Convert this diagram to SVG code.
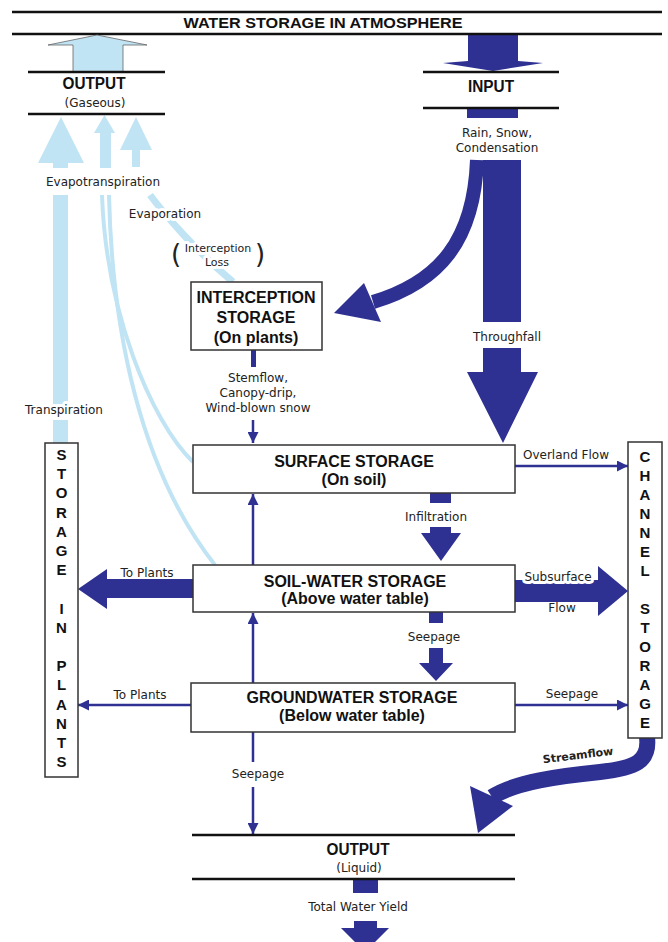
<svg xmlns="http://www.w3.org/2000/svg" width="668" height="942" viewBox="0 0 668 942">
<defs>
<style>
.t{font-family:"DejaVu Sans",Verdana,sans-serif;font-size:12px;fill:#222;text-anchor:middle}
.s{font-size:11px}
.b{font-family:"Liberation Sans",Arial,sans-serif;font-weight:bold;font-size:16px;fill:#111;text-anchor:middle}
.v{font-family:"Liberation Sans",Arial,sans-serif;font-weight:bold;font-size:15px;fill:#111;text-anchor:middle}
.halo{stroke:#fff;stroke-width:6;paint-order:stroke;stroke-linejoin:round}
.box{fill:#fff;stroke:#333;stroke-width:1.5}
.hl{stroke:#111;stroke-width:2.5}
.db{fill:#2e3192}
.dl{stroke:#2e3192;stroke-width:2.5;fill:none}
.lb{fill:#c0e4f4}
.ll{stroke:#c0e4f4;fill:none}
</style>
<marker id="ah" viewBox="0 0 10 10" refX="10" refY="5" markerUnits="userSpaceOnUse" markerWidth="12" markerHeight="11" orient="auto"><path d="M0,0 L10,5 L0,10 z" fill="#2e3192"/></marker>
</defs>
<rect width="668" height="942" fill="#fff"/>

<g id="connectors">
  <!-- light blue evapotranspiration arrows -->
  <path class="lb" d="M61,117 L84,163 L38,163 Z"/>
  <rect class="lb" x="53" y="160" width="15" height="8"/>
  <rect class="lb" x="53" y="195" width="15" height="212"/>
  <rect class="lb" x="53" y="420" width="15" height="23"/>
  <path class="lb" d="M104.5,115 L115,133 L94,133 Z"/>
  <rect class="lb" x="100" y="131" width="11" height="37"/>
  <path class="ll" stroke-width="4" d="M102,195 C106,310 150,420 193,462"/>
  <path class="ll" stroke-width="4" d="M109,195 C112,330 140,470 215,565"/>
  <path class="lb" d="M136,117 L152,150 L120,150 Z"/>
  <rect class="lb" x="132" y="148" width="8" height="19"/>
  <path class="ll" stroke-width="7" d="M150,195 C165,215 195,250 233,282"/>

  <!-- input -->
  <path class="db" d="M468,34 H518 V61 L543,63 L493,71 L443,63 L468,61 Z"/>
  <rect class="db" x="467" y="108" width="51" height="10"/>
  <rect class="db" x="483" y="160" width="38" height="162"/>
  <path class="db" d="M483,348 H521 V372 H538 L503,443 L467,372 H483 Z"/>
  <path d="M477,160 C474,240 440,282 373,302" stroke="#2e3192" stroke-width="14" fill="none"/>
  <path class="db" d="M334,313 L364,283 L381,322 Z"/>

  <!-- interception to surface -->
  <rect class="db" x="251" y="350" width="5" height="17"/>
  <path class="dl" marker-end="url(#ah)" d="M253,420 V443"/>
  <!-- upward -->
  <path class="dl" marker-end="url(#ah)" d="M253,565 V494"/>
  <path class="dl" marker-end="url(#ah)" d="M253,683 V613"/>
  <!-- seepage down -->
  <path class="dl" d="M253,732 V762"/>
  <path class="dl" marker-end="url(#ah)" d="M253,787 V834"/>

  <!-- infiltration -->
  <rect class="db" x="430" y="493" width="21" height="10"/>
  <path class="db" d="M430,527 H451 V533 H461 L441,561 L421,533 H430 Z"/>
  <!-- seepage soil to ground -->
  <rect class="db" x="429" y="612" width="14" height="11"/>
  <path class="db" d="M429,648 H443 V663 H453 L436,681 L419,663 H429 Z"/>

  <!-- to channel -->
  <path class="dl" marker-end="url(#ah)" d="M515,466 H628"/>
  <path class="db" d="M515,580 H598 V566 L628,591 L598,616 V602 H515 Z"/>
  <path class="dl" marker-end="url(#ah)" d="M515,705 H628"/>

  <!-- to plants -->
  <path class="db" d="M193,579 H107 V569 L78,589 L107,609 V598 H193 Z"/>
  <path class="dl" marker-end="url(#ah)" d="M191,705 H78"/>

  <!-- streamflow -->
  <path d="M647,737 C650,762 635,768 600,772 C560,776 515,782 492,797" stroke="#2e3192" stroke-width="16" fill="none"/>
  <path class="db" d="M478,833 L470,786 L513,806 Z"/>

  <!-- total water yield -->
  <rect class="db" x="353" y="879" width="25" height="14"/>
  <path class="db" d="M354,921 H377 V928 H389 L365,952 L341,928 H354 Z"/>
</g>

<g id="atmosphere">
  <line class="hl" x1="12" y1="12" x2="662" y2="12"/>
  <line class="hl" x1="12" y1="34" x2="662" y2="34"/>
  <text class="v" x="323" y="28" textLength="279" lengthAdjust="spacingAndGlyphs">WATER STORAGE IN ATMOSPHERE</text>
</g>

<g id="output-gaseous">
  <path d="M73,72 V45 H48 L97,35 L147,45 H123 V72 Z" fill="#c0e4f4" stroke="#666" stroke-width="0.8"/>
  <line class="hl" x1="28" y1="72" x2="165" y2="72"/>
  <line class="hl" x1="28" y1="114" x2="165" y2="114"/>
  <text class="b" x="94" y="89" textLength="63" lengthAdjust="spacingAndGlyphs">OUTPUT</text>
  <text class="t" x="95" y="107">(Gaseous)</text>
</g>

<g id="input">
  <line class="hl" x1="423" y1="72" x2="559" y2="72"/>
  <line class="hl" x1="423" y1="108" x2="559" y2="108"/>
  <text class="b" x="491" y="92" textLength="46" lengthAdjust="spacingAndGlyphs">INPUT</text>
</g>

<g id="labels">
  <text class="t" x="497" y="137">Rain, Snow,</text>
  <text class="t" x="497" y="152">Condensation</text>
  <text class="t" x="507" y="341">Throughfall</text>
  <text class="t halo" x="103" y="186">Evapotranspiration</text>
  <text class="t halo" x="165" y="218">Evaporation</text>
  <text class="t s halo" x="218" y="252">Interception</text>
  <text class="t s halo" x="217" y="266">Loss</text>
  <text class="t halo" x="176" y="263" style="font-size:26px">(</text>
  <text class="t halo" x="260" y="263" style="font-size:26px">)</text>
  <text class="t halo" x="64" y="414">Transpiration</text>
  <text class="t" x="258" y="382">Stemflow,</text>
  <text class="t" x="258" y="397">Canopy-drip,</text>
  <text class="t" x="258" y="412">Wind-blown snow</text>
  <text class="t" x="436" y="521">Infiltration</text>
  <text class="t" x="434" y="641">Seepage</text>
  <text class="t" x="566" y="459">Overland Flow</text>
  <text class="t halo" x="558" y="581">Subsurface</text>
  <text class="t" x="562" y="612">Flow</text>
  <text class="t" x="572" y="698">Seepage</text>
  <text class="t" x="147" y="577">To Plants</text>
  <text class="t" x="140" y="699">To Plants</text>
  <text class="t" x="258" y="778">Seepage</text>
  <text class="t" x="358" y="911">Total Water Yield</text>
  <text class="t" x="578" y="759" transform="rotate(-7 578 755)" style="font-weight:bold;font-size:11px">Streamflow</text>
</g>

<g id="interception-storage">
  <rect class="box" x="191" y="282" width="131" height="68"/>
  <text class="b" x="256" y="303">INTERCEPTION</text>
  <text class="b" x="256" y="323">STORAGE</text>
  <text class="b" x="256" y="343">(On plants)</text>
</g>

<g id="surface-storage">
  <rect class="box" x="193" y="445" width="322" height="48"/>
  <text class="b" x="354" y="467">SURFACE STORAGE</text>
  <text class="b" x="354" y="485">(On soil)</text>
</g>

<g id="soil-water-storage">
  <rect class="box" x="193" y="565" width="322" height="47"/>
  <text class="b" x="355" y="587">SOIL-WATER STORAGE</text>
  <text class="b" x="355" y="604">(Above water table)</text>
</g>

<g id="groundwater-storage">
  <rect class="box" x="191" y="683" width="324" height="49"/>
  <text class="b" x="352" y="703">GROUNDWATER STORAGE</text>
  <text class="b" x="352" y="721">(Below water table)</text>
</g>

<g id="storage-in-plants">
  <rect class="box" x="45" y="443" width="33" height="334"/>
  <text class="v" x="61.5" y="460">S</text>
  <text class="v" x="61.5" y="479">T</text>
  <text class="v" x="61.5" y="498">O</text>
  <text class="v" x="61.5" y="518">R</text>
  <text class="v" x="61.5" y="537">A</text>
  <text class="v" x="61.5" y="556">G</text>
  <text class="v" x="61.5" y="575">E</text>
  <text class="v" x="61.5" y="614">I</text>
  <text class="v" x="61.5" y="633">N</text>
  <text class="v" x="61.5" y="671">P</text>
  <text class="v" x="61.5" y="690">L</text>
  <text class="v" x="61.5" y="710">A</text>
  <text class="v" x="61.5" y="729">N</text>
  <text class="v" x="61.5" y="748">T</text>
  <text class="v" x="61.5" y="767">S</text>
</g>

<g id="channel-storage">
  <rect class="box" x="628" y="442" width="34" height="296"/>
  <text class="v" x="645" y="462">C</text>
  <text class="v" x="645" y="481">H</text>
  <text class="v" x="645" y="500">A</text>
  <text class="v" x="645" y="519">N</text>
  <text class="v" x="645" y="538">N</text>
  <text class="v" x="645" y="557">E</text>
  <text class="v" x="645" y="576">L</text>
  <text class="v" x="645" y="614">S</text>
  <text class="v" x="645" y="633">T</text>
  <text class="v" x="645" y="652">O</text>
  <text class="v" x="645" y="671">R</text>
  <text class="v" x="645" y="690">A</text>
  <text class="v" x="645" y="709">G</text>
  <text class="v" x="645" y="728">E</text>
</g>

<g id="output-liquid">
  <line class="hl" x1="192" y1="835" x2="515" y2="835"/>
  <line class="hl" x1="192" y1="879" x2="515" y2="879"/>
  <text class="b" x="358" y="855" textLength="63" lengthAdjust="spacingAndGlyphs">OUTPUT</text>
  <text class="t" x="359" y="872">(Liquid)</text>
</g>
</svg>
